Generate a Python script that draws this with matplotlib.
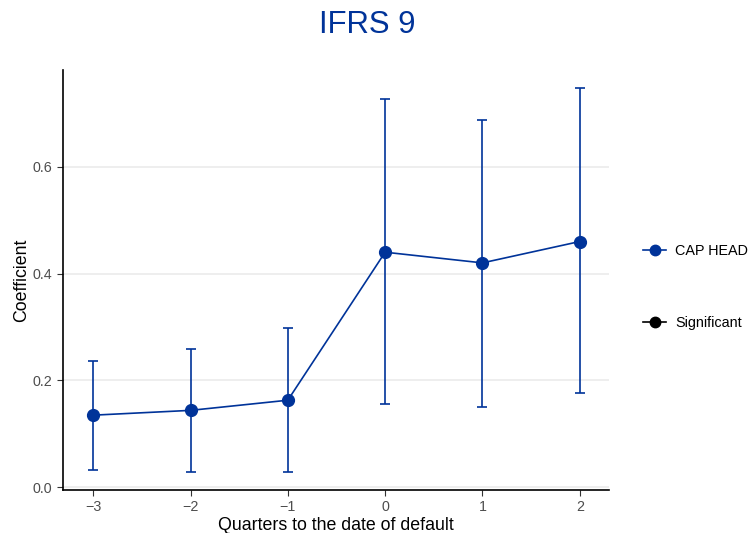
import matplotlib
matplotlib.use("Agg")
import matplotlib.pyplot as plt
from matplotlib.lines import Line2D

plt.rcParams['font.family'] = ['Liberation Sans', 'DejaVu Sans']

quarters = [-3, -2, -1, 0, 1, 2]
coef = [0.135, 0.144, 0.163, 0.440, 0.420, 0.460]
upper = [0.237, 0.259, 0.298, 0.726, 0.687, 0.747]
lower = [0.033, 0.029, 0.029, 0.155, 0.151, 0.176]
yticks = [0.0, 0.2, 0.4, 0.6]
xticks = [-3, -2, -1, 0, 1, 2]

blue = '#003399'

fig = plt.figure(figsize=(7.52, 5.33), dpi=100)
ax = fig.add_axes([0.0838, 0.0807, 0.726, 0.788])

yerr = [[c - l for c, l in zip(coef, lower)], [u - c for c, u in zip(coef, upper)]]
ax.errorbar(quarters, coef, yerr=yerr, color=blue, lw=1.2, capsize=3.5, capthick=1.2,
            marker='o', ms=8.5, zorder=3)

ax.set_xlim(-3.31, 2.30)
ax.set_ylim(-0.005, 0.781)
ax.set_xticks(xticks)
ax.set_xticklabels(['\u22123', '\u22122', '\u22121', '0', '1', '2'])
ax.set_yticks(yticks)
ax.set_yticklabels(['0.0', '0.2', '0.4', '0.6'])
ax.yaxis.grid(True, color='#ebebeb', lw=1.2)
ax.set_axisbelow(True)
for s in ['top', 'right']:
    ax.spines[s].set_visible(False)
for s in ['left', 'bottom']:
    ax.spines[s].set_color('black')
    ax.spines[s].set_linewidth(1.2)
ax.tick_params(axis='both', colors='#333333', labelcolor='#4d4d4d', labelsize=10.3, length=4, width=0.8)
ax.set_xlabel('Quarters to the date of default', fontsize=12.8, color='black', labelpad=2)
ax.set_ylabel('Coefficient', fontsize=12.8, color='black', labelpad=2)

fig.text(0.488, 0.953, 'IFRS 9', ha='center', va='center', fontsize=22.4, color=blue)

# legend
h1 = Line2D([], [], color=blue, marker='o', ms=7.5, lw=1.2)
h2 = Line2D([], [], color='black', marker='o', ms=7.5, lw=1.2)
leg = fig.legend([h1, h2], ['CAP HEAD', 'Significant'], loc='center left',
                 bbox_to_anchor=(0.838, 0.462), frameon=False, fontsize=10.4,
                 handlelength=1.6, handletextpad=0.6, labelspacing=4.0)

fig.savefig('out.png', dpi=100)
